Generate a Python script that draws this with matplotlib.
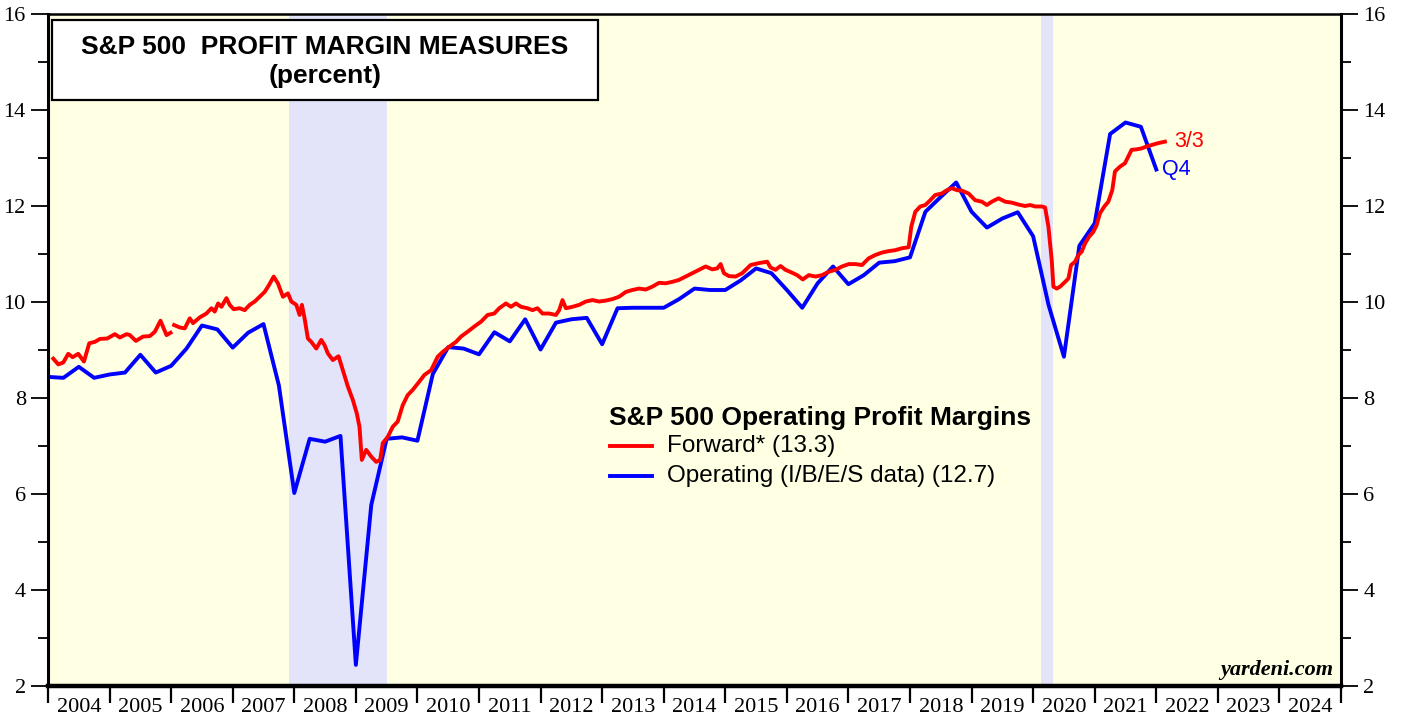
import numpy as np
import matplotlib
matplotlib.use("Agg")
import matplotlib.pyplot as plt
from matplotlib.patches import Rectangle
from matplotlib.lines import Line2D
from matplotlib.ticker import MultipleLocator, FixedLocator, NullFormatter

# ---------------- data ----------------
years = list(range(2004, 2025))
recessions = [(2007.92, 2009.50), (2020.13, 2020.33)]

# Operating margin (I/B/E/S), quarterly, Q4 2003 .. Q4 2021 (plotted at quarter end)
blue_start = 2004.0
blue_vals = [8.44, 8.42, 8.65, 8.42, 8.49, 8.53, 8.90, 8.53, 8.67, 9.03,
             9.51, 9.43, 9.05, 9.36, 9.54, 8.26, 6.02, 7.15, 7.09, 7.21,
             2.44, 5.77, 7.15, 7.18, 7.11, 8.50, 9.06, 9.03, 8.91, 9.37,
             9.18, 9.64, 9.01, 9.57, 9.64, 9.67, 9.12, 9.87, 9.88, 9.88,
             9.88, 10.06, 10.28, 10.25, 10.25, 10.45, 10.70, 10.60, 10.25, 9.88,
             10.39, 10.74, 10.37, 10.56, 10.82, 10.85, 10.93, 11.88, 12.19, 12.49,
             11.88, 11.55, 11.74, 11.87, 11.37, 9.94, 8.86, 11.17, 11.64, 13.50,
             13.74, 13.65, 12.76]

# Forward profit margin (weekly data, sampled), decimal years
red_dates = [2004.086, 2004.167, 2004.248, 2004.329, 2004.400, 2004.491, 2004.584, 2004.670,
             2004.762, 2004.843, 2004.962, 2005.086, 2005.167, 2005.276, 2005.330, 2005.427,
             2005.545, 2005.654, 2005.735, 2005.827, 2005.925, 2005.990, 2006.030,
             2006.048, 2006.140, 2006.221, 2006.303, 2006.356, 2006.465, 2006.573, 2006.654,
             2006.708, 2006.762, 2006.817, 2006.898, 2006.951, 2007.016, 2007.113, 2007.194,
             2007.275, 2007.357, 2007.438, 2007.519, 2007.588, 2007.665, 2007.734, 2007.816,
             2007.897, 2007.952, 2008.033, 2008.086, 2008.124, 2008.167, 2008.221, 2008.276,
             2008.357, 2008.438, 2008.492, 2008.545, 2008.626, 2008.719, 2008.788, 2008.870,
             2008.951, 2009.015, 2009.059, 2009.097, 2009.168, 2009.249, 2009.330, 2009.395,
             2009.437, 2009.518, 2009.599, 2009.680, 2009.761, 2009.842, 2009.924, 2010.005,
             2010.113, 2010.222, 2010.329, 2010.410, 2010.519, 2010.627, 2010.708, 2010.815,
             2010.924, 2011.033, 2011.140, 2011.248, 2011.329, 2011.438, 2011.519, 2011.600,
             2011.681, 2011.788, 2011.869, 2011.950, 2012.031, 2012.140, 2012.249, 2012.302,
             2012.356, 2012.411, 2012.518, 2012.627, 2012.735, 2012.842, 2012.951, 2013.060,
             2013.167, 2013.275, 2013.384, 2013.491, 2013.600, 2013.708, 2013.815, 2013.924,
             2014.032, 2014.139, 2014.248, 2014.357, 2014.464, 2014.572, 2014.681, 2014.788,
             2014.869, 2014.924, 2014.978, 2015.059, 2015.167, 2015.275, 2015.411, 2015.545,
             2015.680, 2015.735, 2015.816, 2015.897, 2015.978, 2016.085, 2016.166, 2016.259,
             2016.356, 2016.465, 2016.572, 2016.680, 2016.789, 2016.896, 2017.005, 2017.113,
             2017.220, 2017.329, 2017.438, 2017.545, 2017.653, 2017.762, 2017.869, 2017.978,
             2018.021, 2018.086, 2018.167, 2018.248, 2018.329, 2018.410, 2018.518, 2018.599,
             2018.681, 2018.762, 2018.843, 2018.951, 2019.059, 2019.167, 2019.248, 2019.329,
             2019.437, 2019.546, 2019.653, 2019.762, 2019.870, 2019.951, 2020.032, 2020.139,
             2020.194, 2020.248, 2020.302, 2020.329, 2020.383, 2020.438, 2020.519, 2020.573,
             2020.616, 2020.681, 2020.735, 2020.789, 2020.843, 2020.908, 2020.977, 2021.031,
             2021.086, 2021.156, 2021.221, 2021.285, 2021.329, 2021.410, 2021.491, 2021.545,
             2021.599, 2021.680, 2021.761, 2021.842, 2021.923, 2022.031, 2022.140]
red_vals = [8.82, 8.70, 8.74, 8.92, 8.85, 8.92, 8.76, 9.14,
            9.17, 9.23, 9.24, 9.33, 9.26, 9.33, 9.31, 9.19,
            9.28, 9.29, 9.38, 9.61, 9.31, 9.36, np.nan,
            9.52, 9.47, 9.45, 9.66, 9.56, 9.68, 9.76, 9.87,
            9.80, 9.97, 9.90, 10.08, 9.94, 9.85, 9.87, 9.83,
            9.94, 10.01, 10.11, 10.21, 10.35, 10.53, 10.39, 10.11,
            10.18, 10.01, 9.94, 9.73, 9.94, 9.66, 9.24, 9.17,
            9.03, 9.21, 9.10, 8.93, 8.79, 8.87, 8.58, 8.24,
            7.96, 7.68, 7.40, 6.71, 6.92, 6.78, 6.67, 6.71,
            7.06, 7.19, 7.40, 7.51, 7.85, 8.06, 8.17, 8.30,
            8.48, 8.58, 8.86, 8.96, 9.07, 9.17, 9.28, 9.38,
            9.49, 9.59, 9.73, 9.76, 9.87, 9.97, 9.90, 9.97,
            9.90, 9.87, 9.83, 9.87, 9.76, 9.76, 9.73, 9.83,
            10.04, 9.87, 9.90, 9.94, 10.01, 10.04, 10.01, 10.03,
            10.06, 10.11, 10.21, 10.25, 10.28, 10.26, 10.32, 10.40,
            10.39, 10.42, 10.46, 10.53, 10.60, 10.67, 10.74, 10.68,
            10.70, 10.79, 10.60, 10.54, 10.53, 10.60, 10.77, 10.81,
            10.84, 10.72, 10.67, 10.75, 10.67, 10.61, 10.56, 10.47,
            10.56, 10.53, 10.56, 10.63, 10.67, 10.74, 10.79, 10.79,
            10.77, 10.91, 10.98, 11.03, 11.06, 11.08, 11.12, 11.14,
            11.57, 11.88, 11.99, 12.02, 12.12, 12.23, 12.26, 12.33,
            12.37, 12.33, 12.32, 12.26, 12.12, 12.09, 12.02, 12.09,
            12.16, 12.09, 12.07, 12.03, 12.00, 12.02, 11.99, 11.99,
            11.97, 11.57, 10.87, 10.32, 10.28, 10.32, 10.42, 10.49,
            10.77, 10.84, 10.98, 11.05, 11.22, 11.36, 11.46, 11.60,
            11.85, 11.99, 12.09, 12.33, 12.72, 12.82, 12.89, 13.03,
            13.17, 13.18, 13.20, 13.24, 13.27, 13.31, 13.34]

title_lines = ["S&P 500  PROFIT MARGIN MEASURES", "(percent)"]
legend_title = "S&P 500 Operating Profit Margins"
red_label = "Forward* (13.3)"
blue_label = "Operating (I/B/E/S data) (12.7)"
red_end_label = "3/3"
blue_end_label = "Q4"

# ---------------- drawing ----------------
W, H = 1403, 717
fig = plt.figure(figsize=(W / 100, H / 100), dpi=100)
fig.patch.set_facecolor("white")
ax = fig.add_axes([48 / W, 31 / H, (1341 - 48) / W, (686 - 14) / H])
ax.set_facecolor("#FFFFE3")

for a, b in recessions:
    ax.axvspan(a, b, color="#E3E3FA", zorder=0.5, lw=0)

blue_x = blue_start + 0.25 * np.arange(len(blue_vals))
RED = "#FF0000"
BLUE = "#0000FF"
ax.plot(red_dates, red_vals, color=RED, lw=2.8, zorder=3, solid_joinstyle="round")
ax.plot(blue_x, blue_vals, color=BLUE, lw=2.8, zorder=2, solid_joinstyle="round")

ax.set_xlim(2004, 2025)
ax.set_ylim(2, 16)

serif = "Liberation Serif"
sans = "Liberation Sans"

# x axis: ticks at year boundaries, labels at mid year
ax.xaxis.set_major_locator(FixedLocator(years + [2025]))
ax.xaxis.set_major_formatter(NullFormatter())
ax.xaxis.set_minor_locator(FixedLocator([y + 0.5 for y in years]))
ax.set_xticklabels([str(y) for y in years], minor=True)
ax.tick_params(axis="x", which="major", direction="out", length=12, width=1.6, color="black")
ax.tick_params(axis="x", which="minor", length=0, pad=9, labelsize=16)
for t in ax.get_xticklabels(minor=True):
    t.set_fontfamily(serif)

# y axes
ax.yaxis.set_major_locator(MultipleLocator(2))
ax.yaxis.set_minor_locator(MultipleLocator(1))
ax.tick_params(axis="y", which="major", direction="out", length=12, width=1.3,
               left=True, right=True, labelleft=True, labelright=True, labelsize=16, pad=4)
ax.tick_params(axis="y", which="minor", direction="out", length=7, width=1.3,
               left=True, right=True)

ax.spines["bottom"].set_linewidth(3.2)
ax.spines["left"].set_linewidth(2.2)
ax.spines["right"].set_linewidth(2.2)
ax.spines["top"].set_linewidth(1.8)

fig.canvas.draw()
for t in ax.yaxis.get_major_ticks():
    t.label2.set_fontfamily(serif)
    t.label1.set_fontfamily(serif)

# title box
rect = Rectangle((52 / W, 1 - 100 / H), (598 - 52) / W, 80 / H, transform=fig.transFigure,
                 facecolor="white", edgecolor="black", lw=1.6, zorder=5)
fig.patches.append(rect)
fig.text(325 / W, 1 - 47 / H, title_lines[0], ha="center", va="center", fontsize=19,
         fontweight="bold", family=sans, zorder=6)
fig.text(325 / W, 1 - 76 / H, title_lines[1], ha="center", va="center", fontsize=19,
         fontweight="bold", family=sans, zorder=6)

# legend (manual)
fig.text(609 / W, 1 - 418 / H, legend_title, ha="left", va="center", fontsize=19,
         fontweight="bold", family=sans)
for ypix, col, lab in [(446, RED, red_label), (476, BLUE, blue_label)]:
    fig.add_artist(Line2D([610 / W, 652 / W], [1 - ypix / H, 1 - ypix / H],
                          transform=fig.transFigure, color=col, lw=2.8))
    fig.text(667 / W, 1 - ypix / H, lab, ha="left", va="center", fontsize=17.5, family=sans)

# end labels
ax.annotate(red_end_label, (red_dates[-1], red_vals[-1]), xytext=(7, 0),
            textcoords="offset points", color=RED, fontsize=15.5, family=sans,
            ha="left", va="center")
ax.annotate(blue_end_label, (blue_x[-1], blue_vals[-1]), xytext=(4, 0),
            textcoords="offset points", color=BLUE, fontsize=15.5, family=sans,
            ha="left", va="center")

fig.text(1333 / W, 1 - 670 / H, "yardeni.com", ha="right", va="center", fontsize=16,
         fontweight="bold", fontstyle="italic", family=serif)

fig.savefig("out.png", dpi=100)
